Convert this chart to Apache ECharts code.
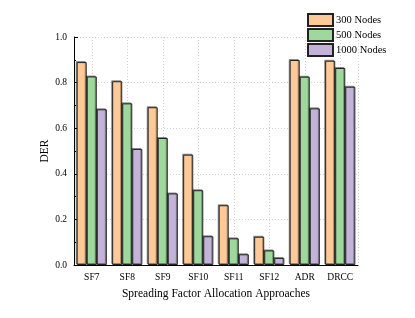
<!DOCTYPE html>
<html><head><meta charset="utf-8">
<script src="https://cdn.jsdelivr.net/npm/echarts@6/dist/echarts.min.js"></script>
<style>html,body{margin:0;padding:0;background:#fff}#c{width:415px;height:318px}</style>
</head><body><div id="c"></div>
<script>
const categories = ['SF7','SF8','SF9','SF10','SF11','SF12','ADR','DRCC'];
const seriesNames = ['300 Nodes','500 Nodes','1000 Nodes'];
const nodes300 = [0.890,0.806,0.692,0.484,0.262,0.124,0.899,0.896];
const nodes500 = [0.827,0.709,0.557,0.328,0.117,0.064,0.826,0.864];
const nodes1000 = [0.683,0.509,0.314,0.126,0.047,0.031,0.687,0.782];
const yTicks = [0,0.2,0.4,0.6,0.8,1.0];

const colors = ['#FDC997','#9FD89C','#C3B3D9'];
const font = 'Liberation Serif';
const chart = echarts.init(document.getElementById('c'), null, {renderer:'canvas'});
const data = [nodes300, nodes500, nodes1000];
const halfCats = [];
for (let i = 0; i < categories.length * 2; i++) halfCats.push('');
chart.setOption({
  animation:false,
  backgroundColor:'#fff',
  textStyle:{fontFamily:font},
  legend:{
    orient:'vertical', left:307, top:13, padding:0, icon:'rect',
    itemWidth:25, itemHeight:12, itemGap:1,
    textStyle:{fontFamily:font, fontSize:10.5, color:'#000', padding:[0,0,0,-2]},
    data:seriesNames
  },
  grid:{left:74, right:57, top:37, bottom:53},
  xAxis:[{
    type:'category', data:categories,
    name:'Spreading Factor Allocation Approaches', nameLocation:'middle', nameGap:23,
    nameMoveOverlap:false,
    nameTextStyle:{fontFamily:font, fontSize:11.5, color:'#000'},
    axisLine:{lineStyle:{color:'#000', width:1}},
    axisTick:{inside:true, alignWithLabel:true, length:3, lineStyle:{color:'#000'}},
    axisLabel:{fontFamily:font, fontSize:9.5, color:'#000', margin:7},
    splitLine:{show:false}
  },{
    type:'category', data:halfCats, position:'bottom',
    axisLine:{show:false}, axisTick:{show:false}, axisLabel:{show:false},
    splitLine:{show:true, interval:function(i){return i % 2 === 1;}, lineStyle:{color:'#d0d0d0', type:[1,2], width:1}}
  }],
  yAxis:{
    type:'value', min:0, max:1, interval:0.2,
    name:'DER', nameLocation:'middle', nameGap:23, nameMoveOverlap:false,
    nameTextStyle:{fontFamily:font, fontSize:11.5, color:'#000'},
    axisLine:{show:true, lineStyle:{color:'#000', width:1}},
    axisTick:{show:true, inside:true, length:4, lineStyle:{color:'#000'}},
    minorTick:{show:true, splitNumber:2, length:2, lineStyle:{color:'#000'}},
    axisLabel:{fontFamily:font, fontSize:9.5, color:'#000', margin:7,
      formatter:function(v){return v.toFixed(1);}},
    splitLine:{show:true, lineStyle:{color:'#d0d0d0', type:[1,2], width:1}}
  },
  series:data.map(function(d,k){return {
    name:seriesNames[k], type:'bar', data:d, xAxisIndex:0,
    barGap:'0%', barCategoryGap:'15%',
    itemStyle:{color:colors[k], borderColor:'#222', borderWidth:1,
      shadowColor:'rgba(0,0,0,0.35)', shadowOffsetX:-1, shadowOffsetY:-1, shadowBlur:0}
  };})
});
</script></body></html>
